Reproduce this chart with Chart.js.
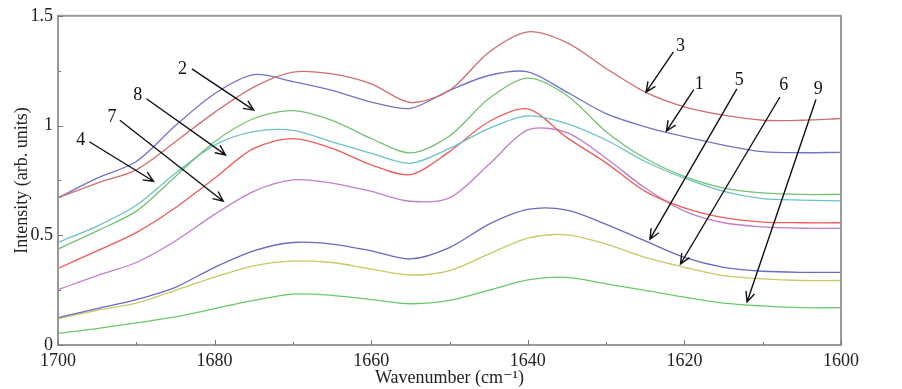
<!DOCTYPE html>
<html>
<head>
<meta charset="utf-8">
<script src="https://cdn.jsdelivr.net/npm/chart.js@4.4.0/dist/chart.umd.min.js"></script>
<style>
  html, body { margin: 0; padding: 0; background: #fff; }
  #wrap { width: 902px; height: 389px; }
</style>
</head>
<body>
<div id="wrap"><canvas id="myChart" width="902" height="389"></canvas></div>
<script>
// wavenumbers (cm-1), every 5 cm-1
var wavenumbers = [1700,1695,1690,1685,1680,1675,1670,1665,1660,1655,1650,1645,1640,1635,1630,1625,1620,1615,1610,1605,1600];

// intensities
var s1 = [0.67,0.76,0.836,1.00,1.145,1.232,1.20,1.16,1.107,1.078,1.16,1.228,1.245,1.152,1.054,0.994,0.949,0.911,0.881,0.876,0.878];
var s2 = [0.437,0.52,0.61,0.768,0.926,1.032,1.068,1.024,0.941,0.875,0.952,1.122,1.216,1.137,0.972,0.851,0.768,0.715,0.693,0.686,0.686];
var s3 = [0.67,0.738,0.798,0.926,1.06,1.175,1.243,1.235,1.19,1.105,1.16,1.333,1.427,1.378,1.26,1.152,1.085,1.047,1.024,1.024,1.032];
var s4 = [0.467,0.542,0.637,0.783,0.911,0.972,0.978,0.926,0.873,0.828,0.896,0.986,1.044,1.009,0.934,0.836,0.76,0.70,0.667,0.66,0.657];
var s5 = [0.125,0.166,0.207,0.263,0.354,0.429,0.467,0.46,0.429,0.392,0.444,0.55,0.618,0.615,0.55,0.474,0.399,0.354,0.336,0.331,0.331];
var s6 = [0.12,0.158,0.191,0.249,0.309,0.361,0.382,0.376,0.346,0.319,0.339,0.414,0.487,0.502,0.46,0.399,0.354,0.316,0.301,0.294,0.294];
var s7 = [0.252,0.316,0.376,0.474,0.595,0.70,0.752,0.738,0.70,0.655,0.67,0.821,0.98,0.968,0.851,0.715,0.61,0.557,0.538,0.532,0.532];
var s8 = [0.349,0.429,0.512,0.625,0.76,0.896,0.94,0.896,0.821,0.776,0.881,1.017,1.076,0.945,0.83,0.70,0.625,0.58,0.56,0.557,0.557];
var s9 = [0.053,0.075,0.101,0.128,0.166,0.203,0.232,0.226,0.207,0.188,0.203,0.249,0.297,0.308,0.279,0.249,0.218,0.191,0.178,0.17,0.17];

var xTicks = [1700,1680,1660,1640,1620,1600];
var yTicks = [0,0.5,1,1.5];

// curve labels with arrows (data units: [wavenumber, intensity])
var arrowLabels = ['2','8','7','4','3','1','5','6','9'];
var labelAt   = [[1684.1,1.258],[1689.8,1.137],[1693.1,1.039],[1697.1,0.934],[1620.5,1.363],[1618.1,1.19],[1613.0,1.205],[1607.3,1.183],[1602.9,1.167]];
var arrowFrom = [[1682.9,1.258],[1688.7,1.122],[1692.1,1.024],[1696.0,0.926],[1621.4,1.336],[1618.8,1.164],[1613.3,1.167],[1607.8,1.13],[1603.2,1.119]];
var arrowTo   = [[1675.0,1.07],[1678.6,0.866],[1678.9,0.655],[1687.8,0.746],[1624.9,1.152],[1622.3,0.975],[1624.4,0.482],[1620.5,0.369],[1612.0,0.196]];

function pts(arr) {
  return arr.map(function (v, i) { return { x: wavenumbers[i], y: v }; });
}

function line(label, arr, color) {
  return {
    label: label,
    data: pts(arr),
    borderColor: color,
    borderWidth: 1.3,
    pointRadius: 0,
    fill: false,
    tension: 0.3
  };
}

var serif = '"Liberation Serif", "DejaVu Serif", serif';

var framePlugin = {
  id: 'frame',
  afterDatasetsDraw: function (chart) {
    var ctx = chart.ctx;
    var a = chart.chartArea;
    var xs = chart.scales.x, ys = chart.scales.y;
    ctx.save();
    // arrows and labels
    ctx.strokeStyle = '#111';
    ctx.fillStyle = '#111';
    ctx.lineWidth = 1.4;
    ctx.font = '18px ' + serif;
    ctx.textAlign = 'center';
    ctx.textBaseline = 'middle';
    for (var i = 0; i < arrowLabels.length; i++) {
      var x0 = xs.getPixelForValue(arrowFrom[i][0]), y0 = ys.getPixelForValue(arrowFrom[i][1]);
      var x1 = xs.getPixelForValue(arrowTo[i][0]), y1 = ys.getPixelForValue(arrowTo[i][1]);
      ctx.beginPath();
      ctx.moveTo(x0, y0);
      ctx.lineTo(x1, y1);
      var ang = Math.atan2(y1 - y0, x1 - x0);
      var h = 11, sp = 0.42;
      ctx.moveTo(x1 - h * Math.cos(ang - sp), y1 - h * Math.sin(ang - sp));
      ctx.lineTo(x1, y1);
      ctx.lineTo(x1 - h * Math.cos(ang + sp), y1 - h * Math.sin(ang + sp));
      ctx.stroke();
      ctx.fillText(arrowLabels[i], xs.getPixelForValue(labelAt[i][0]), ys.getPixelForValue(labelAt[i][1]));
    }
    // frame
    ctx.strokeStyle = '#999';
    ctx.lineWidth = 2;
    ctx.strokeRect(a.left, a.top, a.right - a.left, a.bottom - a.top);
    // inward ticks, bottom and left
    ctx.lineWidth = 1;
    ctx.strokeStyle = '#777';
    ctx.beginPath();
    for (var w = 1600; w <= 1700; w += 10) {
      var px = Math.round(xs.getPixelForValue(w)) + 0.5;
      var len = (w % 20 === 0) ? 5 : 3;
      ctx.moveTo(px, a.bottom);
      ctx.lineTo(px, a.bottom - len);
    }
    for (var v = 0; v <= 1.5001; v += 0.25) {
      var py = Math.round(ys.getPixelForValue(v)) + 0.5;
      var l2 = (Math.abs(v * 2 - Math.round(v * 2)) < 1e-6) ? 5 : 3;
      ctx.moveTo(a.left, py);
      ctx.lineTo(a.left + l2, py);
    }
    ctx.stroke();
    ctx.restore();
  }
};

const ctx = document.getElementById('myChart').getContext('2d');
const myChart = new Chart(ctx, {
  type: 'line',
  data: {
    datasets: [
      line('3', s3, '#cf6e6e'),
      line('1', s1, '#7474c6'),
      line('2', s2, '#74c074'),
      line('4', s4, '#6cc3c6'),
      line('8', s8, '#ef5a5a'),
      line('7', s7, '#c07fc6'),
      line('5', s5, '#6a6ac2'),
      line('6', s6, '#c8c864'),
      line('9', s9, '#6cc66c')
    ]
  },
  options: {
    responsive: false,
    animation: false,
    layout: { padding: { left: 0, top: 13, right: 61, bottom: 0 } },
    plugins: { legend: { display: false }, tooltip: { enabled: false } },
    scales: {
      x: {
        type: 'linear',
        reverse: true,
        min: 1600,
        max: 1700,
        afterBuildTicks: function (s) { s.ticks = xTicks.map(function (v) { return { value: v }; }); },
        afterFit: function (s) { s.height = 44; },
        grid: { display: false, drawTicks: false },
        border: { display: false },
        ticks: { color: '#222', font: { family: serif, size: 18 }, padding: 5, maxRotation: 0, callback: function (v) { return String(v); } },
        title: { display: true, text: 'Wavenumber (cm\u207B\u00B9)', color: '#222', font: { family: serif, size: 18 }, padding: { top: 0, bottom: 0 } }
      },
      y: {
        min: 0,
        max: 1.5,
        afterBuildTicks: function (s) { s.ticks = yTicks.map(function (v) { return { value: v }; }); },
        afterFit: function (s) { s.width = 58; },
        grid: { display: false, drawTicks: false },
        border: { display: false },
        ticks: { color: '#222', font: { family: serif, size: 18 }, padding: 5, callback: function (v) { return String(v); } },
        title: { display: true, text: 'Intensity (arb. units)', color: '#222', font: { family: serif, size: 18 }, padding: { top: 11, bottom: 0 } }
      }
    }
  },
  plugins: [framePlugin]
});
</script>
</body>
</html>
